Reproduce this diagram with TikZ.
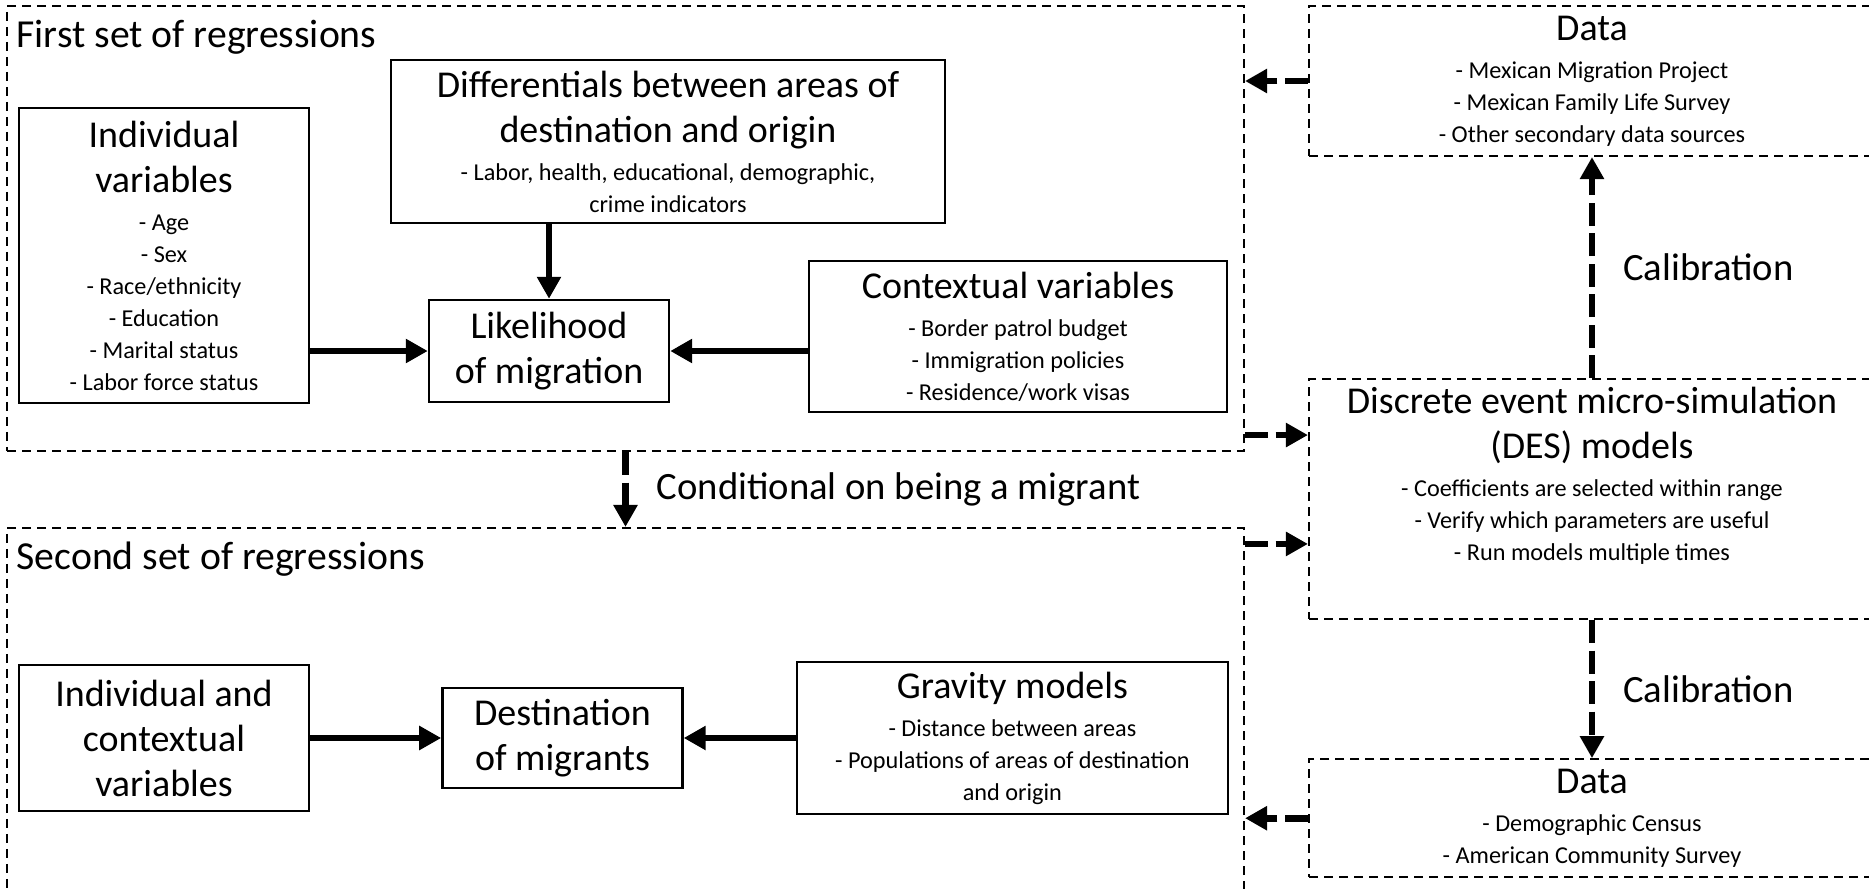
\documentclass[tikz,border=0pt]{standalone}
\usepackage{fontspec}
\setmainfont{Carlito}
\usetikzlibrary{positioning,arrows.meta}
\newcommand{\hdfont}{\fontsize{10.8}{12.8}\selectfont}
\newcommand{\ttlfont}{\fontsize{11.3}{13.5}\selectfont}
\newcommand{\labfont}{\fontsize{11.0}{13.2}\selectfont}
\newcommand{\smfont}{\fontsize{6.9}{9.1}\selectfont}

\begin{document}
\begin{tikzpicture}[
    box/.style={rectangle, draw, line width=0.7pt, align=center, inner sep=2pt, font=\smfont},
    frame/.style={rectangle, draw, line width=0.6pt, dash pattern=on 0.9mm off 0.6mm},
    srcbox/.style={frame, minimum width=5.66cm, align=center, inner sep=2pt, font=\smfont},
    title/.style={font=\ttlfont, inner sep=0pt, anchor=base west},
    lab/.style={font=\labfont, inner sep=0pt, right=0.28cm, midway},
    arr/.style={-{Triangle[length=2.2mm, width=2.3mm]}, line width=1.9pt},
    darr/.style={arr, dash pattern=on 2.3mm off 0.75mm}
]
\path[use as bounding box, clip] (0,0) rectangle (18.69,-8.89);

% ============================================================
% FRAMES
% ============================================================
\node[frame, minimum width=12.37cm, minimum height=4.45cm] (frame1) at (6.255,-2.285) {};
\node[frame, minimum width=12.37cm, minimum height=4.0cm]  (frame2) at (6.255,-7.28) {};

\node[title] (title1) at ([shift={(0.10,-0.43)}]frame1.north west) {First set of regressions};
\node[title] (title2) at ([shift={(0.10,-0.43)}]frame2.north west) {Second set of regressions};

% ============================================================
% FIRST SET
% ============================================================
\node[box, minimum width=2.90cm, minimum height=2.95cm] (indiv) at (1.64,-2.555)
    {\hdfont Individual\\[3.7pt]\hdfont variables\\[1.7pt]- Age\\- Sex\\- Race/ethnicity\\- Education\\- Marital status\\- Labor force status};
\node[box, minimum width=5.54cm, minimum height=1.63cm] (diff) at (6.68,-1.415)
    {\hdfont Differentials between areas of\\[3.7pt]\hdfont destination and origin\\[1.7pt]- Labor, health, educational, demographic,\\crime indicators};
\node[box, minimum width=2.40cm, minimum height=1.02cm] (lik) at (5.49,-3.51)
    {\hdfont Likelihood\\[3.7pt]\hdfont of migration};
\node[box, minimum width=4.18cm, minimum height=1.51cm] (ctx) at (10.18,-3.365)
    {\hdfont Contextual variables\\[1.7pt]- Border patrol budget\\- Immigration policies\\- Residence/work visas};

% ============================================================
% SECOND SET
% ============================================================
\node[box, minimum width=2.90cm, minimum height=1.46cm] (indctx) at (1.64,-7.38)
    {\hdfont Individual and\\[3.7pt]\hdfont contextual\\[3.7pt]\hdfont variables};
\node[box, minimum width=2.40cm, minimum height=1.00cm, right=1.31cm of indctx] (dest)
    {\hdfont Destination\\[3.7pt]\hdfont of migrants};
\node[box, minimum width=4.31cm, minimum height=1.52cm, right=1.12cm of dest] (grav)
    {\hdfont Gravity models\\[1.7pt]- Distance between areas\\- Populations of areas of destination\\and origin};

% ============================================================
% SIMULATION AND DATA
% ============================================================
\node[srcbox, minimum height=1.50cm] (data1) at (15.92,-0.81)
    {\hdfont Data\\[1.7pt]- Mexican Migration Project\\- Mexican Family Life Survey\\- Other secondary data sources};
\node[srcbox, minimum height=2.40cm, text depth=0.5cm, below=2.21cm of data1] (des)
    {\hdfont Discrete event micro-simulation\\[3.7pt]\hdfont (DES) models\\[1.7pt]- Coefficients are selected within range\\- Verify which parameters are useful\\- Run models multiple times};
\node[srcbox, minimum height=1.18cm, below=1.38cm of des] (data2)
    {\hdfont Data\\[1.7pt]- Demographic Census\\- American Community Survey};

\draw[arr] (diff.south -| lik.north) -- (lik.north);
\draw[arr] (lik.west -| indiv.east) -- (lik.west);
\draw[arr] (lik.east -| ctx.west) -- (lik.east);
\draw[arr] (indctx) -- (dest);
\draw[arr] (grav) -- (dest);

\draw[darr] (frame1.south) -- node[lab] (cond) {Conditional on being a migrant} (frame2.north);
\draw[darr] (des.north) -- node[lab] (cal1) {Calibration} (data1.south);
\draw[darr] (des.south) -- node[lab] (cal2) {Calibration} (data2.north);

\draw[darr] (data1.west) -- (data1.west -| frame1.east);
\draw[darr] (data2.west) -- (data2.west -| frame2.east);
\draw[darr] ([yshift=1.7mm]frame1.south east) -- ([yshift=1.7mm]frame1.south east -| des.west);
\draw[darr] ([yshift=-1.7mm]frame2.north east) -- ([yshift=-1.7mm]frame2.north east -| des.west);

\end{tikzpicture}
\end{document}
